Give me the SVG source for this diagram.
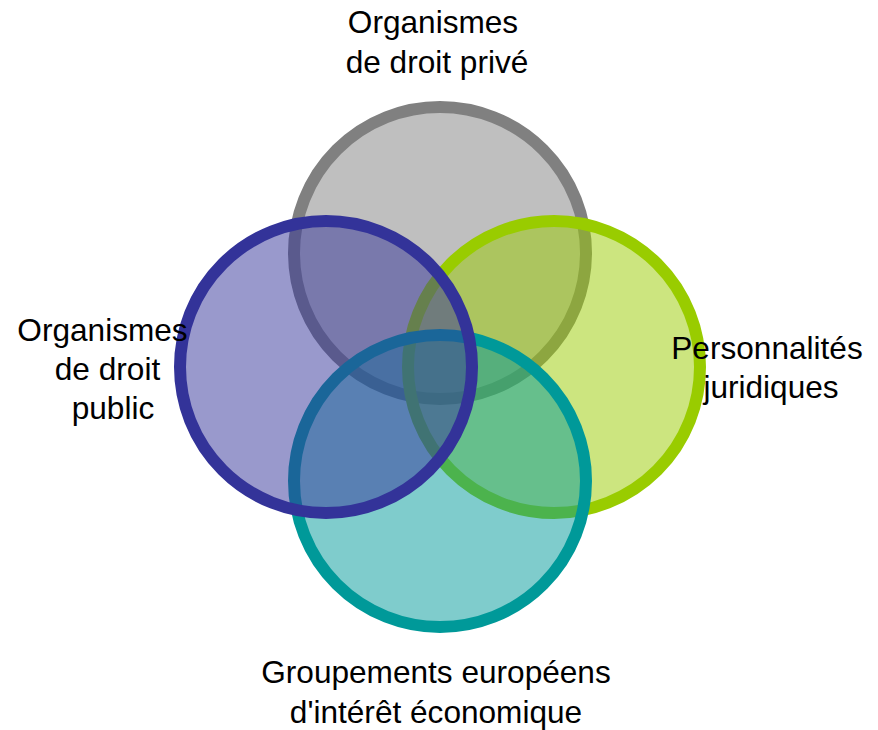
<svg xmlns="http://www.w3.org/2000/svg" width="878" height="730" viewBox="0 0 878 730">
<style>
.c{stroke-width:12;fill-opacity:0.5}
.t{font-family:"Liberation Sans",Arial,sans-serif;font-size:31.6px;fill:#000;text-anchor:middle}
</style>
<rect width="878" height="730" fill="#fff"/>
<g id="node-prive">
<circle class="c" cx="440" cy="253" r="146" fill="#808080" stroke="#808080"/>
<text class="t" x="433" y="33">Organismes</text>
<text class="t" x="437" y="72.5">de droit privé</text>
</g>
<g id="node-personnalites">
<circle class="c" cx="554" cy="367" r="146" fill="#99cc00" stroke="#99cc00"/>
</g>
<g id="node-groupements">
<circle class="c" cx="440" cy="481" r="146" fill="#009999" stroke="#009999"/>
<text class="t" x="436" y="683">Groupements européens</text>
<text class="t" x="436" y="722.5">d'intérêt économique</text>
</g>
<g id="node-public">
<circle class="c" cx="326" cy="367" r="146" fill="#333399" stroke="#333399"/>
<text class="t" x="102.5" y="341">Organismes</text>
<text class="t" x="107.5" y="380">de droit</text>
<text class="t" x="113" y="418.5">public</text>
</g>
<g id="labels-personnalites">
<text class="t" x="767" y="359">Personnalités</text>
<text class="t" x="771" y="397.5">juridiques</text>
</g>
<g id="connectors"></g>
</svg>
